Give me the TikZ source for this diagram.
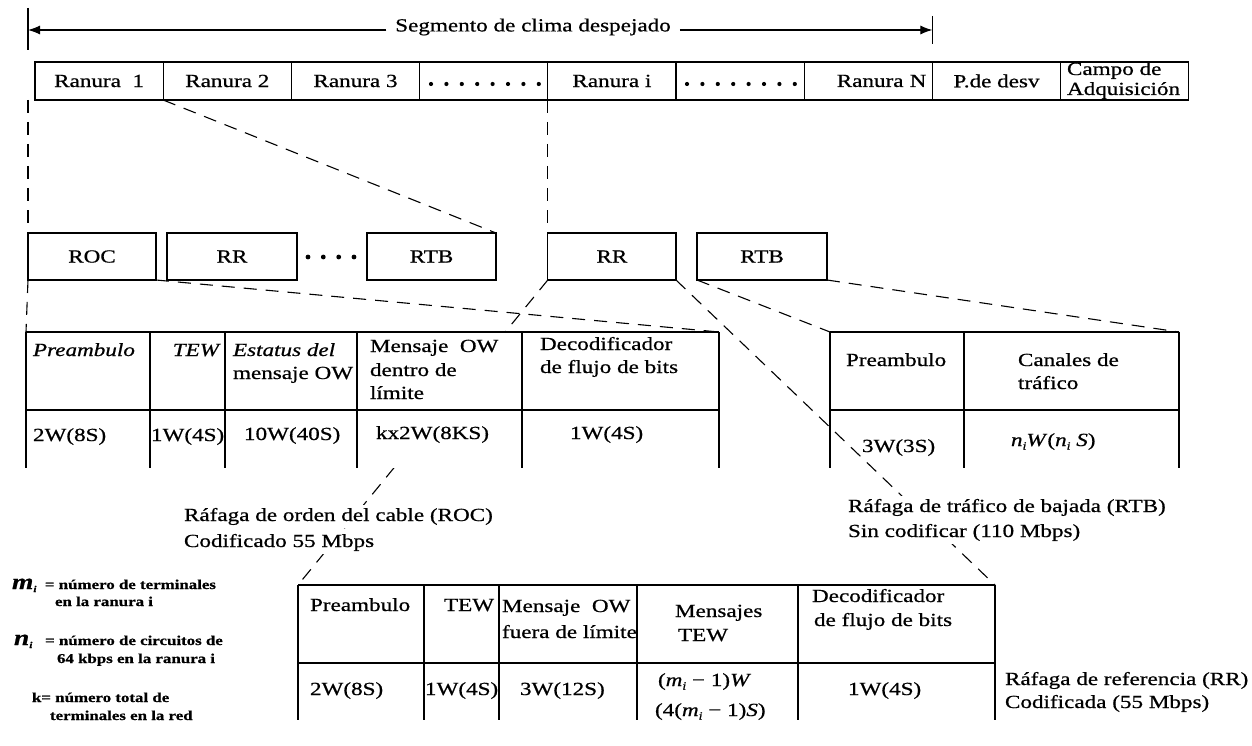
\documentclass[tikz,border=0pt]{standalone}
\usepackage{fontspec}
\setmainfont{Liberation Serif}[FakeStretch=1.25,FakeBold=0.7]
\usetikzlibrary{arrows.meta,calc}
\newcommand\sbi{\raisebox{-3.5pt}{\fontsize{11}{11}\selectfont\textit{i}}}
\begin{document}
\begin{tikzpicture}[x=1pt,y=-1pt,
  every node/.style={inner sep=0pt,outer sep=0pt},
  main/.style={font=\fontsize{18.5}{21}\selectfont},
  slot/.style={main,draw,line width=1.2pt,anchor=north west,minimum height=38pt,minimum width=128.2pt},
  burst/.style={main,draw,line width=1.3pt,anchor=north west,minimum height=47pt},
  rule/.style={line width=1.4pt},
  link/.style={line width=1.1pt,dash pattern=on 13pt off 9pt},
  lbl/.style={main,anchor=base west},
  burstcaption/.style={main,anchor=base west,fill=white,inner sep=3pt},
  note/.style={font=\fontsize{13.5}{16}\selectfont\bfseries,anchor=base west},
]
\useasboundingbox (0,0) rectangle (1252,746);

% ---- span of the clear-weather segment
\node[main,inner xsep=9pt] (seg) at (533,27) {Segmento de clima despejado};
\coordinate (segL) at (28,30);
\coordinate (segR) at (932.4,30);
\draw[line width=1.3pt] (28,8) -- (28,50);
\draw[line width=1.3pt] (932.4,16) -- (932.4,44);
\draw[line width=1.1pt,-{Latex[length=12pt,width=9pt]}] (seg.west |- segL) -- (segL);
\draw[line width=1.1pt,-{Latex[length=12pt,width=9pt]}] (seg.east |- segR) -- (segR);

% ---- frame slots
\node[slot] (r1) at (35,62) {Ranura\ \ 1};
\node[slot] (r2) at (163.2,62) {Ranura 2};
\node[slot] (r3) at (291.4,62) {Ranura 3};
\node[slot] (d1) at (419.6,62) {};
\node[slot] (ri) at (547.8,62) {Ranura i};
\node[slot] (d2) at (676,62) {};
\node[slot,text width=116.2pt,inner xsep=6pt,align=right] (rn) at (804.2,62) {Ranura N};
\node[slot] (pd) at (932.4,62) {P.de desv};
\node[slot] (ca) at (1060.6,62) {};
\node[lbl] (ca1) at (1067,75) {Campo de};
\node[lbl] (ca2) at (1067,95) {Adquisición};
\foreach \k in {0,...,7} \fill ($(d1.west)+(11.4+\k*15.4,3)$) circle (2.1pt);
\foreach \k in {0,...,7} \fill ($(d2.west)+(11+\k*15.4,3)$) circle (2.1pt);

% ---- bursts inside the slots
\node[burst,minimum width=128pt] (roc) at (28,233) {ROC};
\node[burst,minimum width=130pt] (rra) at (167,233) {RR};
\node (md) at (331,256) {};
\foreach \dx in {-23,-7.7,7.7,23} \fill ($(md)+(\dx,1)$) circle (2.4pt);
\node[burst,minimum width=129pt] (rtba) at (367,233) {RTB};
\node[burst,minimum width=128.2pt] (rrb) at (547.8,233) {RR};
\node[burst,minimum width=130pt] (rtbb) at (697,233) {RTB};

% ---- table corners
\coordinate (t1nw) at (26,332);
\coordinate (t1ne) at (719,332);
\coordinate (t2nw) at (830,332);
\coordinate (t2ne) at (1179,332);
\coordinate (t3nw) at (298,585);
\coordinate (t3ne) at (995,585);

% ---- expansion lines
\coordinate (c1) at (roc.north west |- r1.south);
\draw[link] (c1) -- (roc.north west);
\draw[link] (r1.south east) -- (rtba.north east);
\draw[link] (ri.south west) -- (rrb.north west);
\draw[link] (roc.south west) -- (t1nw);
\draw[link] (roc.south east) -- (t1ne);
\draw[link] (rrb.south west) -- (t3nw);
\draw[link] (rtbb.south west) -- (t2nw);
\draw[link] (rtbb.south east) -- (t2ne);

% ---- ROC burst table
\fill[white] (26,332) rectangle (719,468);
\draw[rule] (26,332) -- (719,332) (26,410) -- (719,410);
\foreach \x in {26,150,225,357,522,719} \draw[rule] (\x,332) -- (\x,468);
\node[lbl] (a1) at (33,356) {\itshape Preambulo};
\node[lbl,anchor=base east] (a2) at (219,356) {\itshape TEW};
\node[lbl] (a3) at (233,356) {\itshape Estatus del};
\node[lbl] (a3b) at (233,379) {mensaje OW};
\node[lbl] (a4) at (370,352) {Mensaje\ \ OW};
\node[lbl] (a4b) at (370,376) {dentro de};
\node[lbl] (a4c) at (370,399) {límite};
\node[lbl] (a5) at (540,350) {Decodificador};
\node[lbl] (a5b) at (540,373) {de flujo de bits};
\node[lbl] (b1) at (33,441) {2W(8S)};
\node[lbl] (b2) at (151,441) {1W(4S)};
\node[lbl] (b3) at (244,440) {10W(40S)};
\node[lbl] (b4) at (376,439) {kx2W(8KS)};
\node[lbl] (b5) at (570,439) {1W(4S)};

% ---- RTB burst table
\fill[white] (830,332) rectangle (1179,468);
\draw[rule] (830,332) -- (1179,332) (830,410) -- (1179,410);
\foreach \x in {830,964,1179} \draw[rule] (\x,332) -- (\x,468);
\node[lbl] (e1) at (846,366) {Preambulo};
\node[lbl] (e2) at (1018,366) {Canales de};
\node[lbl] (e2b) at (1018,389) {tráfico};
\node[lbl] (f1) at (862,452) {3W(3S)};
\node[lbl] (f2) at (1011,446) {\textit{n}\sbi\textit{W}(\textit{n}\sbi\ \textit{S})};

\draw[link] (rrb.south east) -- (t3ne);

% ---- RR burst table
\draw[rule] (298,585) -- (995,585) (298,663) -- (995,663);
\foreach \x in {298,424,499,637,798,995} \draw[rule] (\x,585) -- (\x,720);
\node[lbl] (g1) at (310,611) {Preambulo};
\node[lbl] (g2) at (444,611) {TEW};
\node[lbl] (g3) at (502,612) {Mensaje\ \ OW};
\node[lbl] (g3b) at (502,638) {fuera de límite};
\node[lbl] (g4) at (675,617) {Mensajes};
\node[lbl] (g4b) at (678,641) {TEW};
\node[lbl] (g5) at (812,602) {Decodificador};
\node[lbl] (g5b) at (814,626) {de flujo de bits};
\node[lbl] (h1) at (310,695) {2W(8S)};
\node[lbl] (h2) at (425,695) {1W(4S)};
\node[lbl] (h3) at (520,695) {3W(12S)};
\node[lbl] (h4) at (658,686) {(\textit{m}\sbi\ − 1)\textit{W}};
\node[lbl] (h4b) at (655,716) {(4(\textit{m}\sbi\ − 1)\textit{S})};
\node[lbl] (h5) at (848,695) {1W(4S)};

% ---- burst captions
\node[burstcaption] (k1) at (181,521) {Ráfaga de orden del cable (ROC)};
\node[burstcaption] (k1b) at (181,547) {Codificado 55 Mbps};
\node[burstcaption] (k2) at (845,512) {Ráfaga de tráfico de bajada (RTB)};
\node[burstcaption] (k2b) at (845,537) {Sin codificar (110 Mbps)};
\node[lbl] (k3) at (1005,685) {Ráfaga de referencia (RR)};
\node[lbl] (k3b) at (1005,708) {Codificada (55 Mbps)};

% ---- legend
\node[note] (n1) at (12,589) {{\fontsize{22}{22}\selectfont\textit{m}}\raisebox{-3pt}{\fontsize{9}{9}\selectfont\textit{i}}\ \ = número de terminales};
\node[note] (n1b) at (55,606) {en la ranura i};
\node[note] (n2) at (14,645) {{\fontsize{22}{22}\selectfont\textit{n}}\raisebox{-3pt}{\fontsize{9}{9}\selectfont\textit{i}}\ \ \ = número de circuitos de};
\node[note] (n2b) at (57,663) {64 kbps en la ranura i};
\node[note] (n3) at (32,702) {k= número total de};
\node[note] (n3b) at (50,720) {terminales en la red};
\end{tikzpicture}
\end{document}
